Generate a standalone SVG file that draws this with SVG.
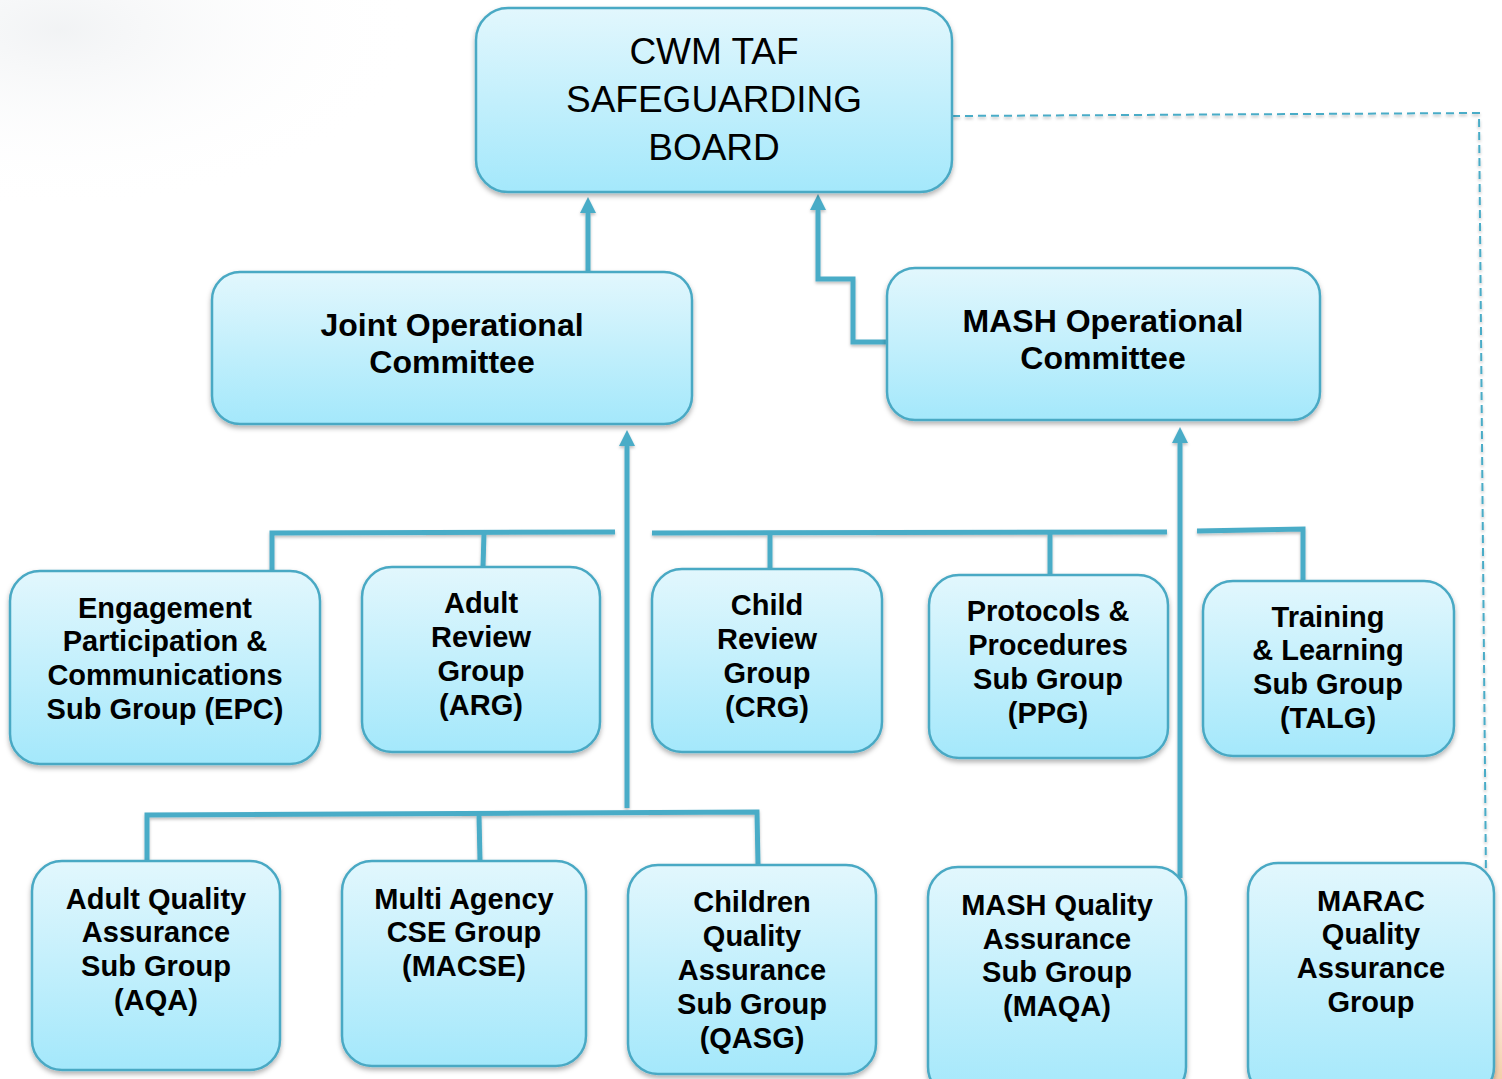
<svg xmlns="http://www.w3.org/2000/svg" width="1502" height="1079" viewBox="0 0 1502 1079">
<defs>
<linearGradient id="fill" x1="0" y1="0" x2="0" y2="1">
<stop offset="0" stop-color="#e2f7fd"/>
<stop offset="1" stop-color="#a4e8fb"/>
</linearGradient>
<radialGradient id="peach" cx="1" cy="1" r="1">
<stop offset="0" stop-color="#f3c9a0" stop-opacity="0.9"/>
<stop offset="0.5" stop-color="#f8e2c9" stop-opacity="0.5"/>
<stop offset="1" stop-color="#ffffff" stop-opacity="0"/>
</radialGradient>
<radialGradient id="grey" cx="0.1" cy="0.1" r="0.6">
<stop offset="0" stop-color="#eef0f2" stop-opacity="0.8"/>
<stop offset="1" stop-color="#ffffff" stop-opacity="0"/>
</radialGradient>
<filter id="sh" x="-10%" y="-10%" width="120%" height="130%">
<feDropShadow dx="0" dy="3" stdDeviation="2.5" flood-color="#000" flood-opacity="0.3"/>
</filter>
<filter id="lsh" filterUnits="userSpaceOnUse" x="0" y="0" width="1502" height="1079">
<feDropShadow dx="0" dy="2" stdDeviation="1.5" flood-color="#000" flood-opacity="0.25"/>
</filter>
<marker id="arr" viewBox="0 0 10 10" refX="0" refY="5" markerWidth="3.2" markerHeight="3.2" orient="auto" markerUnits="strokeWidth">
<path d="M0,0 L10,5 L0,10 z" fill="#4aacc7"/>
</marker>
<style>
.box{fill:url(#fill);stroke:#4aa9c4;stroke-width:2.5;filter:url(#sh)}
.t{font-family:"Liberation Sans",Arial,sans-serif;font-weight:bold;font-size:29px;fill:#000;text-anchor:middle}
.tl{font-size:32px}
.tb{font-weight:normal;font-size:37px}
.c{fill:none;stroke:#4aacc7;stroke-width:5}
.d{fill:none;stroke:#4aacc7;stroke-width:2;stroke-dasharray:8,5}
</style>
</defs>
<rect width="1502" height="1079" fill="#ffffff"/>
<rect x="0" y="0" width="600" height="300" fill="url(#grey)"/>
<rect x="1380" y="880" width="122" height="199" fill="url(#peach)"/>

<g id="connectors" filter="url(#lsh)">
<path class="d" d="M952,116 L1479,113 L1486,880"/>
<path class="c" d="M588,272 L588,213" marker-end="url(#arr)"/>
<path class="c" d="M887,342 L853,342 L853,279 L818,279 L818,210" marker-end="url(#arr)"/>
<path class="c" d="M627,808 L627,446" marker-end="url(#arr)"/>
<path class="c" d="M1180,878 L1180,443" marker-end="url(#arr)"/>
<path class="c" d="M272,571 L272,533 L615,532"/>
<path class="c" d="M652,533 L1167,532"/>
<path class="c" d="M484,533 L483,567"/>
<path class="c" d="M770,533 L770,569"/>
<path class="c" d="M1050,533 L1050,575"/>
<path class="c" d="M1197,531 L1303,529 L1303,581"/>
<path class="c" d="M147,861 L147,815 L757,812 L758,865"/>
<path class="c" d="M479,815 L480,861"/>
</g>

<g id="board">
<rect class="box" x="476" y="8" width="476" height="184" rx="32"/>
<text class="t tb" x="714" y="64">CWM TAF</text>
<text class="t tb" x="714" y="112">SAFEGUARDING</text>
<text class="t tb" x="714" y="160">BOARD</text>
</g>
<g id="joint">
<rect class="box" x="212" y="272" width="480" height="152" rx="28"/>
<text class="t tl" x="452" y="336">Joint Operational</text>
<text class="t tl" x="452" y="373">Committee</text>
</g>
<g id="mash">
<rect class="box" x="887" y="268" width="433" height="152" rx="28"/>
<text class="t tl" x="1103" y="332">MASH Operational</text>
<text class="t tl" x="1103" y="369">Committee</text>
</g>

<g id="epc">
<rect class="box" x="10" y="571" width="310" height="193" rx="30"/>
<text class="t" x="165" y="618">Engagement</text>
<text class="t" x="165" y="651">Participation &amp;</text>
<text class="t" x="165" y="685">Communications</text>
<text class="t" x="165" y="719">Sub Group (EPC)</text>
</g>
<g id="arg">
<rect class="box" x="362" y="567" width="238" height="185" rx="30"/>
<text class="t" x="481" y="613">Adult</text>
<text class="t" x="481" y="647">Review</text>
<text class="t" x="481" y="681">Group</text>
<text class="t" x="481" y="715">(ARG)</text>
</g>
<g id="crg">
<rect class="box" x="652" y="569" width="230" height="183" rx="30"/>
<text class="t" x="767" y="615">Child</text>
<text class="t" x="767" y="649">Review</text>
<text class="t" x="767" y="683">Group</text>
<text class="t" x="767" y="717">(CRG)</text>
</g>
<g id="ppg">
<rect class="box" x="929" y="575" width="239" height="183" rx="30"/>
<text class="t" x="1048" y="621">Protocols &amp;</text>
<text class="t" x="1048" y="655">Procedures</text>
<text class="t" x="1048" y="689">Sub Group</text>
<text class="t" x="1048" y="723">(PPG)</text>
</g>
<g id="talg">
<rect class="box" x="1203" y="581" width="251" height="175" rx="30"/>
<text class="t" x="1328" y="627">Training</text>
<text class="t" x="1328" y="660">&amp; Learning</text>
<text class="t" x="1328" y="694">Sub Group</text>
<text class="t" x="1328" y="728">(TALG)</text>
</g>

<g id="aqa">
<rect class="box" x="32" y="861" width="248" height="209" rx="30"/>
<text class="t" x="156" y="909">Adult Quality</text>
<text class="t" x="156" y="942">Assurance</text>
<text class="t" x="156" y="976">Sub Group</text>
<text class="t" x="156" y="1010">(AQA)</text>
</g>
<g id="macse">
<rect class="box" x="342" y="861" width="244" height="205" rx="30"/>
<text class="t" x="464" y="909">Multi Agency</text>
<text class="t" x="464" y="942">CSE Group</text>
<text class="t" x="464" y="976">(MACSE)</text>
</g>
<g id="qasg">
<rect class="box" x="628" y="865" width="248" height="209" rx="30"/>
<text class="t" x="752" y="912">Children</text>
<text class="t" x="752" y="946">Quality</text>
<text class="t" x="752" y="980">Assurance</text>
<text class="t" x="752" y="1014">Sub Group</text>
<text class="t" x="752" y="1048">(QASG)</text>
</g>
<g id="maqa">
<rect class="box" x="928" y="867" width="258" height="230" rx="30"/>
<text class="t" x="1057" y="915">MASH Quality</text>
<text class="t" x="1057" y="949">Assurance</text>
<text class="t" x="1057" y="982">Sub Group</text>
<text class="t" x="1057" y="1016">(MAQA)</text>
</g>
<g id="marac">
<rect class="box" x="1248" y="863" width="246" height="234" rx="30"/>
<text class="t" x="1371" y="911">MARAC</text>
<text class="t" x="1371" y="944">Quality</text>
<text class="t" x="1371" y="978">Assurance</text>
<text class="t" x="1371" y="1012">Group</text>
</g>
</svg>
